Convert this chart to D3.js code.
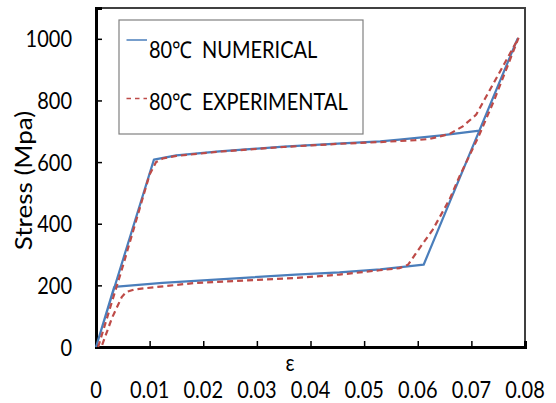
<!DOCTYPE html>
<html>
<head>
<meta charset="utf-8">
<script src="https://cdn.jsdelivr.net/npm/d3@7/dist/d3.min.js"></script>
<style>
  html, body { margin: 0; padding: 0; background: #fff; }
  svg { display: block; }
  text { font-family: Lato, "Open Sans", sans-serif; fill: #000; white-space: pre; }
</style>
</head>
<body>
<svg id="chart" width="556" height="403"></svg>
<script>
// Strain / stress loop at 80 °C
const numStrain = [0, 0.0108, 0.015, 0.023, 0.035, 0.045, 0.053, 0.0566, 0.064, 0.0715, 0.0786,
                   0.0611, 0.053, 0.0454, 0.0372, 0.0124, 0.0034, 0];
const numStress = [0, 608, 622, 635, 650, 660, 667, 673, 686, 702, 1000,
                   267, 252, 242, 235, 208, 195, 0];

const expStrain = [0.0004, 0.0050, 0.0100, 0.0112, 0.0125, 0.015, 0.023, 0.035, 0.045, 0.053,
                   0.0595, 0.0622, 0.0659, 0.0684, 0.0709, 0.0721, 0.075, 0.0788,
                   0.0743, 0.0715, 0.0678, 0.0659, 0.0628, 0.0597, 0.0582, 0.0566,
                   0.0529, 0.0454, 0.0372, 0.0186, 0.0093, 0.0070, 0.0056, 0.0048, 0.0030, 0.0010];
const expStress = [0, 262, 560, 600, 612, 620, 634, 649, 659, 665,
                   671, 675, 691, 716, 754, 792, 883, 1003,
                   803, 689, 554, 478, 381, 305, 267, 256,
                   249, 235, 224, 208, 191, 186, 178, 162, 95, 0];

const xTicks = [0, 0.01, 0.02, 0.03, 0.04, 0.05, 0.06, 0.07, 0.08];
const xTickLabels = ["0", "0.01", "0.02", "0.03", "0.04", "0.05", "0.06", "0.07", "0.08"];
const yTicks = [0, 200, 400, 600, 800, 1000];
const yTickLabels = ["0", "200", "400", "600", "800", "1000"];

const seriesNames = ["80\u2103  NUMERICAL", "80\u2103  EXPERIMENTAL"];

const svg = d3.select("#chart");
const W = 556, H = 403;
const plot = { left: 96, right: 525, top: 8, bottom: 347 };

const x = d3.scaleLinear().domain([0, 0.08]).range([plot.left, plot.right]);
const y = d3.scaleLinear().domain([0, 1100]).range([plot.bottom, plot.top]);

const FS = 20;      // base font size
const SY = 1.15;    // vertical stretch of the lettering

svg.append("rect").attr("width", W).attr("height", H).attr("fill", "#fff");

// plot frame
svg.append("rect")
  .attr("x", plot.left).attr("y", plot.top)
  .attr("width", plot.right - plot.left).attr("height", plot.bottom - plot.top)
  .attr("fill", "none").attr("stroke", "#404040").attr("stroke-width", 2);

// axes with inward ticks
const xAxis = d3.axisBottom(x).tickValues(xTicks.slice(1, -1)).tickSize(-6).tickFormat("");
const yAxis = d3.axisLeft(y).tickValues(yTicks.slice(1)).tickSize(-6).tickFormat("");

const gx = svg.append("g").attr("transform", `translate(0,${plot.bottom})`).call(xAxis);
const gy = svg.append("g").attr("transform", `translate(${plot.left},0)`).call(yAxis);
[gx, gy].forEach(g => {
  g.select(".domain").attr("stroke", "#000").attr("stroke-width", 3);
  g.selectAll(".tick line").attr("stroke", "#000").attr("stroke-width", 1.5);
});

// tick labels
svg.append("g").selectAll("text").data(xTicks).join("text")
  .attr("transform", d => `translate(${x(d)},397.5) scale(1,${SY})`)
  .attr("text-anchor", "middle").attr("font-size", FS)
  .text((d, i) => xTickLabels[i]);

svg.append("g").selectAll("text").data(yTicks).join("text")
  .attr("transform", d => `translate(72,${y(d) + 8.5}) scale(1,${SY})`)
  .attr("text-anchor", "end").attr("font-size", FS)
  .text((d, i) => yTickLabels[i]);

// axis titles
svg.append("text")
  .attr("transform", `translate(290,371) scale(1,${SY})`)
  .attr("text-anchor", "middle").attr("font-size", FS)
  .text("\u03b5");

svg.append("text")
  .attr("transform", `translate(31.5,180.5) rotate(-90) scale(1.3,${SY})`)
  .attr("text-anchor", "middle").attr("font-size", FS)
  .text("Stress (Mpa)");

// curves
const line = d3.line().x(d => x(d[0])).y(d => y(d[1]));
const numData = numStrain.map((s, i) => [s, numStress[i]]);
const expData = expStrain.map((s, i) => [s, expStress[i]]);

svg.append("path").datum(numData)
  .attr("d", line).attr("fill", "none")
  .attr("stroke", "#4a7ebb").attr("stroke-width", 2.2)
  .attr("stroke-linejoin", "round");

svg.append("path").datum(expData)
  .attr("d", line).attr("fill", "none")
  .attr("stroke", "#be4b48").attr("stroke-width", 2.2)
  .attr("stroke-dasharray", "6,4");

// legend
const lg = svg.append("g");
lg.append("rect")
  .attr("x", 119).attr("y", 20).attr("width", 244).attr("height", 114)
  .attr("fill", "#fff").attr("stroke", "#808080").attr("stroke-width", 1.2);

const legendRows = [
  { name: seriesNames[0], color: "#4a7ebb", dash: null, ly: 40, ty: 58 },
  { name: seriesNames[1], color: "#be4b48", dash: "4.5,4", ly: 98.5, ty: 110 }
];
legendRows.forEach(r => {
  lg.append("line")
    .attr("x1", 126.5).attr("x2", 147).attr("y1", r.ly).attr("y2", r.ly)
    .attr("stroke", r.color).attr("stroke-width", 1.5)
    .attr("stroke-dasharray", r.dash);
  lg.append("text")
    .attr("transform", `translate(149,${r.ty}) scale(1,${SY})`)
    .attr("font-size", FS)
    .text(r.name);
});
</script>
</body>
</html>
